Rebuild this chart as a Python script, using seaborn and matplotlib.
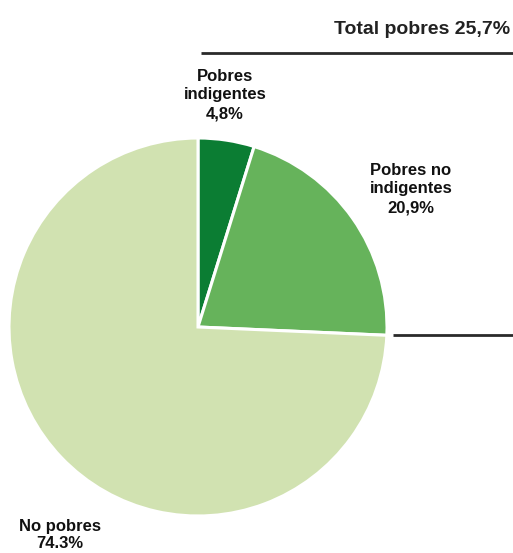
import matplotlib
matplotlib.use("Agg")
import matplotlib.pyplot as plt
import seaborn as sns

categorias = ["Pobres\nindigentes\n4,8%", "Pobres no\nindigentes\n20,9%", "No pobres\n74.3%"]
valores = [4.8, 20.9, 74.3]
colores = ["#0b7d33", "#66b35b", "#d1e2b1"]
titulo = "Total pobres 25,7%"

sns.set_theme(style="white")
plt.rcParams['font.family'] = ['Liberation Sans', 'DejaVu Sans']

W, H = 513, 553
fig = plt.figure(figsize=(W / 100, H / 100), dpi=100)
ax = fig.add_axes([0, 0, 1, 1])

# pie in pixel coordinates (y measured from the bottom)
cx, cy, r = 198, H - 327, 189
ax.pie(valores, colors=colores, startangle=90, counterclock=False,
       center=(cx, cy), radius=r,
       wedgeprops=dict(edgecolor="white", linewidth=2.2))

ax.set_xlim(0, W)
ax.set_ylim(0, H)
ax.set_aspect("equal")
ax.axis("off")

txt = dict(fontsize=12, fontweight="bold", color="#111111",
           ha="center", va="center", linespacing=1.3)
ax.text(225, H - 95, categorias[0], **txt)
ax.text(411, H - 189, categorias[1], **txt)
txt["linespacing"] = 1.1
ax.text(60, H - 535, categorias[2], **txt)

ax.text(510, H - 30, titulo, fontsize=14, fontweight="bold", color="#222222",
        ha="right", va="center")
ax.plot([201, 513], [H - 53, H - 53], color="#2a2a2a", lw=2, solid_capstyle="butt")
ax.plot([393, 513], [H - 335, H - 335], color="#2a2a2a", lw=2, solid_capstyle="butt")

fig.savefig("out.png", dpi=100)
